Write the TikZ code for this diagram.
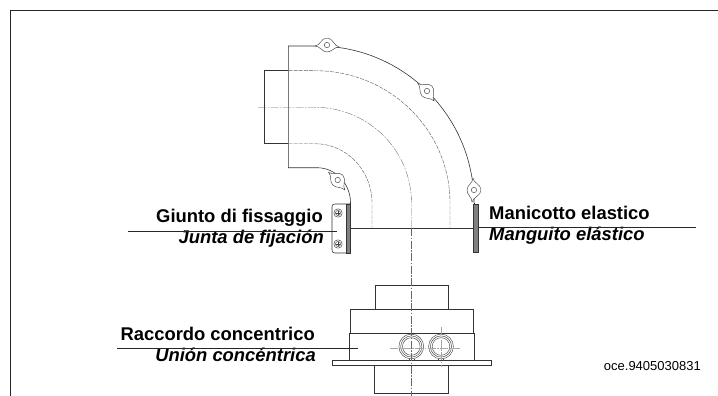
\documentclass[tikz,border=0pt]{standalone}
\usepackage{fontspec}
\setmainfont{Liberation Sans}
\tikzset{
  part/.style={draw=black!80,line width=0.6pt},
  thin part/.style={draw=black!75,line width=0.45pt},
  hidden/.style={draw=black!65,line width=0.4pt,dash pattern=on 4pt off 1.2pt},
  axis/.style={draw=black!60,line width=0.35pt,dash pattern=on 8pt off 1.5pt on 1.5pt off 1.5pt},
  leader/.style={draw=black!85,line width=0.7pt},
  bold label/.style={inner sep=0pt,font=\fontsize{18.4}{20}\bfseries},
  ital label/.style={inner sep=0pt,font=\fontsize{18.4}{20}\bfseries\itshape},
  gasket/.style={draw=black!80,fill=black!50,line width=0.4pt},
}
\newcommand{\lug}[3]{%
  \begin{scope}[shift={(#1,#2)},rotate=#3]
    \draw[thin part,fill=white] (-12,1) .. controls (-7,1) and (-6,-7) .. (0,-7) .. controls (6,-7) and (7,1) .. (12,2) .. controls (7,2) and (5,7) .. (0,7) .. controls (-5,7) and (-7,1) .. (-12,1) -- cycle;
    \draw[thin part] (0,0) circle (2.7);
  \end{scope}}
\newcommand{\screw}[2]{%
  \draw[thin part] (#1,#2) circle (4.2);
  \draw[thin part] (#1,#2) circle (2.6);
  \draw[thin part] (#1-1.8,#2) -- (#1+1.8,#2) (#1,#2-1.8) -- (#1,#2+1.8);}
\newcommand{\port}[2]{%
  \draw[thin part] (#1,#2) circle (12.4);
  \draw[thin part] (#1,#2) circle (10.6);
  \draw[thin part] (#1,#2) circle (8.8);
  \draw[thin part] (#1-2.5,#2+12) -- (#1-2.5,#2+14) (#1+2.5,#2+12) -- (#1+2.5,#2+14);}
\begin{document}
\begin{tikzpicture}[x=1pt,y=-1pt]
\useasboundingbox (0,0) rectangle (718,396);
% frame
\coordinate (fa) at (10.5,396);
\coordinate (fb) at (10.5,10.5);
\coordinate (fc) at (718,10.5);
\draw[draw=black!85,line width=0.8pt] (fa) -- (fb) -- (fc);
% elbow outline
\draw[part] (317,46) -- (288.3,46) -- (288.3,167.7) -- (317,167.7)
  arc[start angle=-90,end angle=0,x radius=33.5,y radius=35.3];
\draw[part] (317,46) arc[start angle=-90,end angle=0,radius=157];
\draw[part] (350.5,203) -- (350.5,204);
\draw[part] (474,203) -- (474,204);
% stub
\draw[part] (288.3,70.7) -- (264.3,70.7) -- (264.3,143.7) -- (288.3,143.7);
% hidden arcs
\draw[hidden] (288.3,70.7) -- (315,70.7) arc[start angle=-90,end angle=0,x radius=135,y radius=132.3] -- (450,228);
\draw[hidden] (288.3,143.7) -- (315,143.7) arc[start angle=-90,end angle=0,x radius=57,y radius=59.3] -- (372,228);
\draw[axis] (258,107.3) -- (315,107.3) arc[start angle=-90,end angle=0,x radius=96.5,y radius=95.7] -- (411.5,228);
% lugs
\lug{327}{45}{0}
\lug{427}{91}{-45}
\lug{474}{190}{-90}
\lug{337.7}{180}{-45}
% bracket, gaskets
\draw[part,fill=white] (350,204) -- (335,204) .. controls (333,204) and (332,205) .. (332,207) -- (332,250) .. controls (332,252) and (333,253) .. (335,253) -- (350,253);
\draw[gasket] (346.5,204) rectangle (350.5,253);
\draw[gasket] (472.7,204) rectangle (477.7,252.5);
\screw{338}{213}
\screw{338}{244}
\coordinate (hl) at (350.5,228);
\coordinate (hr) at (472.7,228);
\draw[part] (hl) -- (hr);
% terminal
\draw[part] (375,309) -- (375,285) -- (448,285) -- (448,309);
\draw[part] (350,333) -- (350,309) -- (473,309) -- (473,333);
\draw[part] (349,360) -- (349,333) -- (474,333) -- (474,360);
\draw[part] (332,360) rectangle (491,365);
\draw[part] (374,365) -- (374,393) -- (448,393) -- (448,365);
\port{411.3}{346.5}
\port{441}{346.5}
\draw[axis,draw=black!35] (390,348) -- (460,348);
\draw[axis,draw=black!35] (441,327) -- (441,367);
\draw[axis] (411.3,228) -- (411.3,396);
% labels
\node[bold label,anchor=base east] (g1) at (323,222) {Giunto di fissaggio};
\node[ital label,anchor=base east] (g2) at (324,243) {Junta de fijación};
\coordinate (gl) at (128,231);
\coordinate (gr) at (337,231);
\draw[leader] (gl) -- (gr);
\node[bold label,anchor=base west] (m1) at (489,219) {Manicotto elastico};
\node[ital label,anchor=base west] (m2) at (489,240.7) {Manguito elástico};
\coordinate (ml) at (479,227.7);
\coordinate (mr) at (696,227.7);
\draw[leader] (ml) -- (mr);
\node[bold label,anchor=base east] (r1) at (315,340) {Raccordo concentrico};
\node[ital label,anchor=base east] (r2) at (316,361.7) {Unión concéntrica};
\coordinate (rl) at (117,348.3);
\coordinate (rr) at (358,348.3);
\draw[leader] (rl) -- (rr);
\node[inner sep=0pt,anchor=base east,font=\fontsize{13}{15}\selectfont] (oce) at (701,370) {oce.9405030831};
\end{tikzpicture}
\end{document}
